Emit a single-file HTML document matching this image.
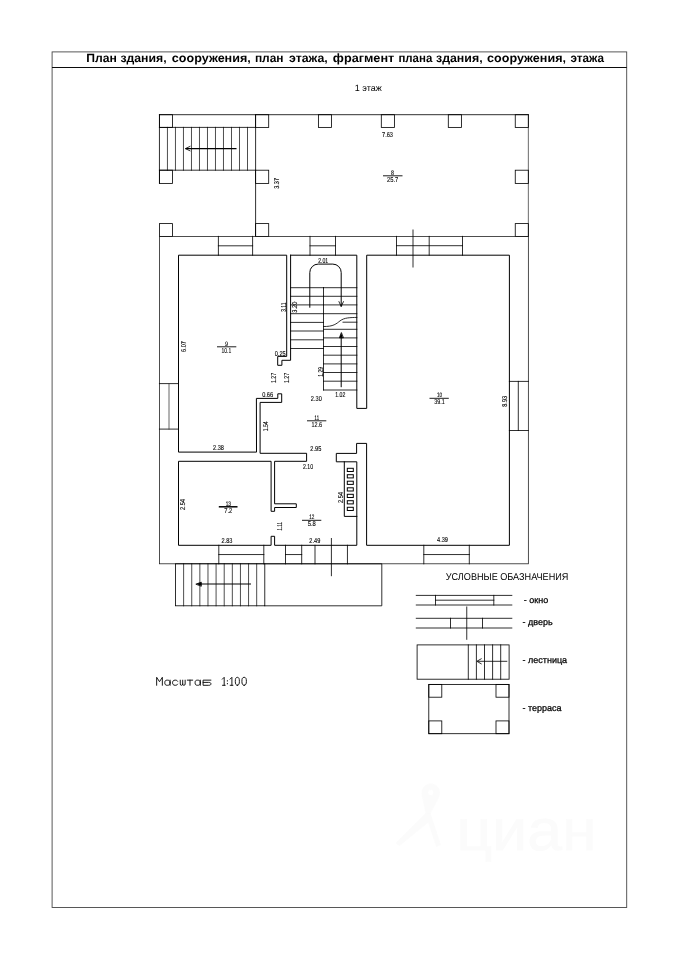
<!DOCTYPE html>
<html><head><meta charset="utf-8"><title>plan</title>
<style>
html,body{margin:0;padding:0;background:#fff;}
body{width:679px;height:960px;overflow:hidden;font-family:"Liberation Sans",sans-serif;}
svg{display:block;will-change:transform;opacity:0.995}
text{text-rendering:geometricPrecision;}
</style></head><body>
<svg width="679" height="960" viewBox="0 0 679 960">
<rect x="0" y="0" width="679" height="960" fill="#ffffff"/>
<g fill="none" stroke="#454545" stroke-width="0.9">
<rect x="52.1" y="51.9" width="574.6" height="855.6"/>
</g>
<g fill="none" stroke="#0a0a0a" stroke-width="1">
<line x1="52" y1="67.5" x2="626.8" y2="67.5"/>
</g>
<g fill="none" stroke="#000" stroke-width="0.82" stroke-linecap="square">
<line x1="159.45" y1="114.7" x2="528.35" y2="114.7"/>
<line x1="255.6" y1="114.7" x2="255.6" y2="236.4"/>
<line x1="528.35" y1="114.7" x2="528.35" y2="236.4" stroke-width="0.7" stroke="#2a2a2a"/>
<rect x="159.45" y="114.7" width="13.1" height="12.7"/>
<rect x="255.6" y="114.7" width="13.1" height="12.7"/>
<rect x="318.4" y="114.7" width="13.1" height="12.7"/>
<rect x="381.3" y="114.7" width="13.1" height="12.7"/>
<rect x="448.3" y="114.7" width="13.1" height="12.7"/>
<rect x="515.25" y="114.7" width="13.1" height="12.7"/>
<rect x="159.45" y="170.2" width="13.1" height="13.2"/>
<rect x="159.45" y="223.6" width="13.1" height="12.8"/>
<rect x="255.6" y="170.2" width="13.1" height="13.2"/>
<rect x="255.6" y="223.6" width="13.1" height="12.8"/>
<rect x="515.25" y="170.2" width="13.1" height="13.2"/>
<rect x="515.25" y="223.6" width="13.1" height="12.8"/>
<line x1="159.45" y1="114.7" x2="159.45" y2="183.4"/>
<line x1="159.45" y1="127.4" x2="255.6" y2="127.4"/>
<line x1="159.45" y1="170.2" x2="255.6" y2="170.2"/>
<line x1="167.45" y1="127.4" x2="167.45" y2="170.2" stroke-width="0.7"/>
<line x1="175.46" y1="127.4" x2="175.46" y2="170.2" stroke-width="0.7"/>
<line x1="183.46" y1="127.4" x2="183.46" y2="170.2" stroke-width="0.7"/>
<line x1="191.47" y1="127.4" x2="191.47" y2="170.2" stroke-width="0.7"/>
<line x1="199.47" y1="127.4" x2="199.47" y2="170.2" stroke-width="0.7"/>
<line x1="207.47" y1="127.4" x2="207.47" y2="170.2" stroke-width="0.7"/>
<line x1="215.48" y1="127.4" x2="215.48" y2="170.2" stroke-width="0.7"/>
<line x1="223.48" y1="127.4" x2="223.48" y2="170.2" stroke-width="0.7"/>
<line x1="231.49" y1="127.4" x2="231.49" y2="170.2" stroke-width="0.7"/>
<line x1="239.49" y1="127.4" x2="239.49" y2="170.2" stroke-width="0.7"/>
<line x1="247.5" y1="127.4" x2="247.5" y2="170.2" stroke-width="0.7"/>
<line x1="236" y1="148.6" x2="186" y2="148.6" stroke-width="1.05"/>
<path d="M190.0,146.4 L185.4,148.6 L190.0,150.8"/>
<rect x="159.45" y="236.4" width="368.9" height="327.4" stroke-width="0.78" stroke="#1c1c1c"/>
<line x1="218.4" y1="236.4" x2="218.4" y2="255.2"/>
<line x1="252.6" y1="236.4" x2="252.6" y2="255.2"/>
<line x1="218.4" y1="245.8" x2="252.6" y2="245.8"/>
<line x1="310" y1="236.4" x2="310" y2="255.2"/>
<line x1="335.5" y1="236.4" x2="335.5" y2="255.2"/>
<line x1="310" y1="245.8" x2="335.5" y2="245.8"/>
<line x1="396.5" y1="236.4" x2="396.5" y2="255.2"/>
<line x1="429.2" y1="236.4" x2="429.2" y2="255.2"/>
<line x1="462.5" y1="236.4" x2="462.5" y2="255.2"/>
<line x1="396.5" y1="245.7" x2="462.5" y2="245.7"/>
<line x1="413" y1="230" x2="413" y2="267"/>
<line x1="159.45" y1="383.6" x2="178.5" y2="383.6"/>
<line x1="159.45" y1="429.1" x2="178.5" y2="429.1"/>
<line x1="169.0" y1="383.6" x2="169.0" y2="429.1" stroke-width="0.75" stroke="#333"/>
<line x1="509.4" y1="381.4" x2="528.35" y2="381.4"/>
<line x1="509.4" y1="430.5" x2="528.35" y2="430.5"/>
<line x1="518.3" y1="381.4" x2="518.3" y2="430.5"/>
<line x1="218.8" y1="545.3" x2="218.8" y2="563.8"/>
<line x1="263.8" y1="545.3" x2="263.8" y2="563.8"/>
<line x1="218.8" y1="554.55" x2="263.8" y2="554.55"/>
<line x1="285.5" y1="545.3" x2="285.5" y2="563.8"/>
<line x1="301.7" y1="545.3" x2="301.7" y2="563.8"/>
<line x1="285.5" y1="554.55" x2="301.7" y2="554.55"/>
<line x1="423.8" y1="545.3" x2="423.8" y2="563.8"/>
<line x1="469.3" y1="545.3" x2="469.3" y2="563.8"/>
<line x1="423.8" y1="554.55" x2="469.3" y2="554.55"/>
<line x1="315" y1="545.3" x2="315" y2="563.8"/>
<line x1="347.45" y1="545.3" x2="347.45" y2="563.8"/>
<line x1="331.4" y1="538.5" x2="331.4" y2="575.7"/>
<path d="M290.6,255.2 L290.6,360.3 L281.9,360.3 L281.9,365.3 L277.7,365.3 L277.7,356.4 L286.7,356.4 L286.7,255.2 L178.5,255.2 L178.5,452.1 L256.5,452.1 L256.4,398.4 L277.8,398.4 L277.8,393.8 L281.7,393.8 L281.7,402.4 L260.1,402.4 L260.1,453.3 L306.6,453.3 L306.6,461.3 L274.6,461.3 L274.6,503.8 L296.3,503.8 L296.3,507.5 L274.6,507.5 L274.6,511.3 L271.1,511.3 L271.1,461.3 L178.5,461.3 L178.5,545.3 L271.1,545.3 L271.1,536.3 L274.6,536.3 L274.6,545.3 L356.8,545.3 L356.8,461.8 L336.3,461.8 L336.3,453.4 L356.6,453.4 L356.6,443.4 L366.6,443.4 L366.6,545.3 L509.4,545.3 L509.4,255.2 L366.7,255.2 L366.7,408.4 L356.8,408.4 L356.8,255.2 L290.6,255.2" stroke-width="1.0"/>
<path d="M344.3,461.8 L344.3,516.4 L356.8,516.4" stroke-width="1.0"/>
<rect x="347.3" y="468.29999999999995" width="6.0" height="3.2" stroke-width="1.0"/>
<rect x="347.3" y="474.7" width="6.0" height="3.2" stroke-width="1.0"/>
<rect x="347.3" y="481.2" width="6.0" height="3.2" stroke-width="1.0"/>
<rect x="347.3" y="487.79999999999995" width="6.0" height="3.2" stroke-width="1.0"/>
<rect x="347.3" y="494.29999999999995" width="6.0" height="3.2" stroke-width="1.0"/>
<rect x="347.3" y="500.7" width="6.0" height="3.2" stroke-width="1.0"/>
<rect x="347.3" y="507.29999999999995" width="6.0" height="3.2" stroke-width="1.0"/>
<line x1="290.6" y1="287.7" x2="323.5" y2="287.7"/>
<line x1="290.6" y1="296.3" x2="323.5" y2="296.3"/>
<line x1="290.6" y1="304.9" x2="323.5" y2="304.9"/>
<line x1="290.6" y1="313.7" x2="323.5" y2="313.7"/>
<line x1="290.6" y1="322.4" x2="323.5" y2="322.4"/>
<line x1="290.6" y1="331.0" x2="323.5" y2="331.0"/>
<line x1="290.6" y1="339.8" x2="323.5" y2="339.8"/>
<line x1="290.6" y1="348.5" x2="323.5" y2="348.5"/>
<line x1="323.5" y1="287.7" x2="356.8" y2="287.7"/>
<line x1="323.5" y1="296.3" x2="356.8" y2="296.3"/>
<line x1="323.5" y1="304.9" x2="356.8" y2="304.9"/>
<line x1="323.5" y1="313.7" x2="356.8" y2="313.7"/>
<line x1="343" y1="322.2" x2="356.8" y2="322.2"/>
<line x1="323.5" y1="329.3" x2="356.8" y2="329.3"/>
<line x1="323.5" y1="337.9" x2="356.8" y2="337.9"/>
<line x1="323.5" y1="346.5" x2="356.8" y2="346.5"/>
<line x1="323.5" y1="355.2" x2="356.8" y2="355.2"/>
<line x1="323.5" y1="363.9" x2="356.8" y2="363.9"/>
<line x1="323.5" y1="372.5" x2="356.8" y2="372.5"/>
<line x1="323.5" y1="381.2" x2="356.8" y2="381.2"/>
<line x1="323.5" y1="390" x2="356.8" y2="390"/>
<line x1="323.5" y1="287.7" x2="323.5" y2="390"/>
<path d="M323.5,326.5 C333.5,326.8 336.5,323.6 340,320.9 C344.5,317.5 350,317.6 356.8,317.4"/>
<path d="M309.8,307.2 L309.8,272.5 A8.4,8.4 0 0 1 318.2,264.1 L332.8,264.1 A8.4,8.4 0 0 1 341.2,272.5 L341.2,306" stroke-width="1.0"/>
<path d="M339.0,301.7 L341.2,306.6 L343.4,301.7"/>
<line x1="341.2" y1="386.7" x2="341.2" y2="336" stroke-width="1.0"/>
<path d="M341.2,333 L339.4,337.8 L343.0,337.8 Z" fill="#000"/>
<rect x="175.5" y="563.8" width="89.3" height="42.0"/>
<line x1="183.62" y1="563.8" x2="183.62" y2="605.8" stroke-width="0.7"/>
<line x1="191.74" y1="563.8" x2="191.74" y2="605.8" stroke-width="0.7"/>
<line x1="199.85" y1="563.8" x2="199.85" y2="605.8" stroke-width="0.7"/>
<line x1="207.97" y1="563.8" x2="207.97" y2="605.8" stroke-width="0.7"/>
<line x1="216.09" y1="563.8" x2="216.09" y2="605.8" stroke-width="0.7"/>
<line x1="224.21" y1="563.8" x2="224.21" y2="605.8" stroke-width="0.7"/>
<line x1="232.33" y1="563.8" x2="232.33" y2="605.8" stroke-width="0.7"/>
<line x1="240.45" y1="563.8" x2="240.45" y2="605.8" stroke-width="0.7"/>
<line x1="248.56" y1="563.8" x2="248.56" y2="605.8" stroke-width="0.7"/>
<line x1="256.68" y1="563.8" x2="256.68" y2="605.8" stroke-width="0.7"/>
<path d="M264.8,563.8 L381.8,563.8 L381.8,605.8 L264.8,605.8"/>
<line x1="250.5" y1="584" x2="199" y2="584" stroke-width="1.1"/>
<path d="M196.3,584 L201.3,582.2 L201.3,585.8 Z" fill="#000"/>
<line x1="416.3" y1="595.4" x2="511.8" y2="595.4"/>
<line x1="416.3" y1="605" x2="511.8" y2="605"/>
<line x1="435.5" y1="595.4" x2="435.5" y2="605"/>
<line x1="493.8" y1="595.4" x2="493.8" y2="605"/>
<line x1="435.5" y1="600.2" x2="493.8" y2="600.2"/>
<line x1="416.3" y1="618.3" x2="511.8" y2="618.3"/>
<line x1="416.3" y1="628" x2="511.8" y2="628"/>
<line x1="450.5" y1="618.3" x2="450.5" y2="628"/>
<line x1="482.5" y1="618.3" x2="482.5" y2="628"/>
<line x1="466.75" y1="607" x2="466.75" y2="639.3"/>
<rect x="417.1" y="644.9" width="92" height="34.3"/>
<line x1="468.3" y1="644.9" x2="468.3" y2="679.2"/>
<line x1="476.4" y1="644.9" x2="476.4" y2="679.2"/>
<line x1="484.5" y1="644.9" x2="484.5" y2="679.2"/>
<line x1="492.6" y1="644.9" x2="492.6" y2="679.2"/>
<line x1="500.7" y1="644.9" x2="500.7" y2="679.2"/>
<line x1="506.8" y1="661.3" x2="478" y2="661.3"/>
<path d="M481.2,658.8 L476.9,661.3 L481.2,663.8"/>
<rect x="428.8" y="684.4" width="80.2" height="49.3"/>
<rect x="428.8" y="684.4" width="13" height="12.8"/>
<rect x="496" y="684.4" width="13" height="12.8"/>
<rect x="428.8" y="720.9" width="13" height="12.8"/>
<rect x="496" y="720.9" width="13" height="12.8"/>
</g>
<g fill="#000" font-family="Liberation Sans, sans-serif">
<text x="86.3" y="62.45" font-size="12" font-weight="bold" textLength="30.6" lengthAdjust="spacingAndGlyphs">План</text>
<text x="120.4" y="62.45" font-size="12" font-weight="bold" textLength="46.2" lengthAdjust="spacingAndGlyphs">здания,</text>
<text x="171.85" y="62.45" font-size="12" font-weight="bold" textLength="78.95" lengthAdjust="spacingAndGlyphs">сооружения,</text>
<text x="254.9" y="62.45" font-size="12" font-weight="bold" textLength="28.7" lengthAdjust="spacingAndGlyphs">план</text>
<text x="289.0" y="62.45" font-size="12" font-weight="bold" textLength="38.8" lengthAdjust="spacingAndGlyphs">этажа,</text>
<text x="332.8" y="62.45" font-size="12" font-weight="bold" textLength="61.5" lengthAdjust="spacingAndGlyphs">фрагмент</text>
<text x="398.4" y="62.45" font-size="12" font-weight="bold" textLength="33.9" lengthAdjust="spacingAndGlyphs">плана</text>
<text x="436.0" y="62.45" font-size="12" font-weight="bold" textLength="46.6" lengthAdjust="spacingAndGlyphs">здания,</text>
<text x="487.1" y="62.45" font-size="12" font-weight="bold" textLength="78.9" lengthAdjust="spacingAndGlyphs">сооружения,</text>
<text x="570.5" y="62.45" font-size="12" font-weight="bold" textLength="33.6" lengthAdjust="spacingAndGlyphs">этажа</text>
<text x="368.3" y="91.1" font-size="9" text-anchor="middle" >1 этаж</text>
<text x="507.1" y="579.8" font-size="9.9" text-anchor="middle" textLength="122.6" lengthAdjust="spacingAndGlyphs" >УСЛОВНЫЕ ОБАЗНАЧЕНИЯ</text>
<text x="523.8" y="602.5" font-size="9" text-anchor="start" stroke="#000" stroke-width="0.25">- окно</text>
<text x="522.6" y="624.7" font-size="9" text-anchor="start" stroke="#000" stroke-width="0.25">- дверь</text>
<text x="522.6" y="663.3" font-size="9" text-anchor="start" stroke="#000" stroke-width="0.25">- лестница</text>
<text x="522.5" y="710.5" font-size="9" text-anchor="start" stroke="#000" stroke-width="0.25">- терраса</text>
</g>
<g fill="none" stroke="#0c0c0c" stroke-width="0.95" stroke-linecap="round" stroke-linejoin="round">
<path transform="translate(156.65 685.3)" d="M0,0 L0,-8.0 L2.85,-3.6 L5.7,-8.0 L5.7,0"/>
<path transform="translate(164.8 685.3)" d="M5.3,-5.15 L5.3,0 M5.3,-2.575 C5.3,-4.699375000000001 4.1075,-5.15 2.65,-5.15 C0.6095000000000002,-5.15 0,-4.416125000000001 0,-2.575 C0,-0.7338749999999998 0.6095000000000002,0 2.65,0 C4.1075,0 5.3,-0.4506249999999996 5.3,-2.575"/>
<path transform="translate(172.55 685.3)" d="M5.1,-4.050000000000001 C4.6,-4.95 3.6999999999999997,-5.15 2.55,-5.15 C0.8,-5.15 0,-4.15 0,-2.575 C0,-1 0.8,0 2.55,0 C3.6999999999999997,0 4.6,-0.2 5.1,-1.1"/>
<path transform="translate(180.25 685.3)" d="M0,-5.15 L0,-1.3 C0,-0.4 0.4,0 1.22,0 C2.05,0 2.45,-0.4 2.45,-1.3 L2.45,-5.15 M2.45,-1.3 C2.45,-0.4 2.85,0 3.67,0 C4.5,0 4.9,-0.4 4.9,-1.3 L4.9,-5.15"/>
<path transform="translate(187.3 685.3)" d="M0,-5.15 L5.4,-5.15 M2.7,-5.15 L2.7,0"/>
<path transform="translate(195.1 685.3)" d="M5.2,-5.15 L5.2,0 M5.2,-2.575 C5.2,-4.699375000000001 4.03,-5.15 2.6,-5.15 C0.5979999999999999,-5.15 0,-4.416125000000001 0,-2.575 C0,-0.7338749999999998 0.5979999999999999,0 2.6,0 C4.03,0 5.2,-0.4506249999999996 5.2,-2.575"/>
<path transform="translate(203.1 685.3)" d="M7.8,-5.15 L0,-5.15 L0,0 L5.6,0 C7.2,0 7.8,-0.5 7.8,-1.45 C7.8,-2.4 7.2,-2.9 5.6,-2.9 L0,-2.9"/>
<path transform="translate(222.3 685.3)" d="M0,-6.1 L1.9,-8.0 L1.9,0 M0.2,0 L2.9,0"/>
<path transform="translate(227.4 685.3)" d="M0,-4.7 L0,-4.2 M0,-1.9 L0,-1.4"/>
<path transform="translate(230.0 685.3)" d="M0,-6.1 L1.9,-8.0 L1.9,0 M0.2,0 L2.9,0"/>
<path transform="translate(235.3 685.3)" d="M2.05,0 C0.6149999999999999,0 0,-1.2 0,-4.0 C0,-6.8 0.6149999999999999,-8.0 2.05,-8.0 C3.4849999999999994,-8.0 4.1,-6.8 4.1,-4.0 C4.1,-1.2 3.4849999999999994,0 2.05,0 Z"/>
<path transform="translate(241.9 685.3)" d="M2.25,0 C0.6749999999999999,0 0,-1.2 0,-4.0 C0,-6.8 0.6749999999999999,-8.0 2.25,-8.0 C3.8249999999999997,-8.0 4.5,-6.8 4.5,-4.0 C4.5,-1.2 3.8249999999999997,0 2.25,0 Z"/>
</g>
<g>
</g>
<g fill="#000" stroke="#000" stroke-width="0.12" font-family="Liberation Sans, sans-serif">
<text x="387.5" y="137.05" font-size="7.1" text-anchor="middle" textLength="10.9" lengthAdjust="spacingAndGlyphs" >7.63</text>
<text x="0" y="2.55" font-size="7.1" text-anchor="middle" textLength="10.9" lengthAdjust="spacingAndGlyphs" transform="translate(276.2 183.4) rotate(-90)">3.37</text>
<text x="323.2" y="262.75" font-size="7.1" text-anchor="middle" textLength="10.1" lengthAdjust="spacingAndGlyphs" >2.01</text>
<text x="0" y="2.55" font-size="7.1" text-anchor="middle" textLength="9.3" lengthAdjust="spacingAndGlyphs" transform="translate(283.8 307.2) rotate(-90)">3.11</text>
<text x="0" y="2.55" font-size="7.1" text-anchor="middle" textLength="10.9" lengthAdjust="spacingAndGlyphs" transform="translate(294.9 307.2) rotate(-90)">3.20</text>
<text x="0" y="2.55" font-size="7.1" text-anchor="middle" textLength="10.9" lengthAdjust="spacingAndGlyphs" transform="translate(183 346.5) rotate(-90)">6.07</text>
<text x="280.2" y="355.75" font-size="7.1" text-anchor="middle" textLength="10.9" lengthAdjust="spacingAndGlyphs" >0.25</text>
<text x="0" y="2.55" font-size="7.1" text-anchor="middle" textLength="10.1" lengthAdjust="spacingAndGlyphs" transform="translate(273.6 378.0) rotate(-90)">1.27</text>
<text x="0" y="2.55" font-size="7.1" text-anchor="middle" textLength="10.1" lengthAdjust="spacingAndGlyphs" transform="translate(286.2 378.0) rotate(-90)">1.27</text>
<text x="0" y="2.55" font-size="7.1" text-anchor="middle" textLength="10.1" lengthAdjust="spacingAndGlyphs" transform="translate(320.4 371.8) rotate(-90)">1.29</text>
<text x="340.3" y="397.25" font-size="7.1" text-anchor="middle" textLength="10.1" lengthAdjust="spacingAndGlyphs" >1.02</text>
<text x="316.3" y="401.05" font-size="7.1" text-anchor="middle" textLength="10.9" lengthAdjust="spacingAndGlyphs" >2.30</text>
<text x="267.6" y="397.15000000000003" font-size="7.1" text-anchor="middle" textLength="10.9" lengthAdjust="spacingAndGlyphs" >0.66</text>
<text x="0" y="2.55" font-size="7.1" text-anchor="middle" textLength="10.1" lengthAdjust="spacingAndGlyphs" transform="translate(265.8 426.3) rotate(-90)">1.54</text>
<text x="218.5" y="450.05" font-size="7.1" text-anchor="middle" textLength="10.9" lengthAdjust="spacingAndGlyphs" >2.38</text>
<text x="315.8" y="451.25" font-size="7.1" text-anchor="middle" textLength="10.9" lengthAdjust="spacingAndGlyphs" >2.95</text>
<text x="308" y="468.75" font-size="7.1" text-anchor="middle" textLength="10.1" lengthAdjust="spacingAndGlyphs" >2.10</text>
<text x="0" y="2.55" font-size="7.1" text-anchor="middle" textLength="10.9" lengthAdjust="spacingAndGlyphs" transform="translate(182.6 504.5) rotate(-90)">2.54</text>
<text x="0" y="2.55" font-size="7.1" text-anchor="middle" textLength="10.9" lengthAdjust="spacingAndGlyphs" transform="translate(340.6 497.6) rotate(-90)">2.54</text>
<text x="0" y="2.55" font-size="7.1" text-anchor="middle" textLength="8.5" lengthAdjust="spacingAndGlyphs" transform="translate(279.3 526.3) rotate(-90)">1.11</text>
<text x="227" y="542.55" font-size="7.1" text-anchor="middle" textLength="10.9" lengthAdjust="spacingAndGlyphs" >2.83</text>
<text x="314.8" y="542.55" font-size="7.1" text-anchor="middle" textLength="10.9" lengthAdjust="spacingAndGlyphs" >2.49</text>
<text x="442.5" y="541.8499999999999" font-size="7.1" text-anchor="middle" textLength="10.9" lengthAdjust="spacingAndGlyphs" >4.39</text>
<text x="0" y="2.55" font-size="7.1" text-anchor="middle" textLength="10.9" lengthAdjust="spacingAndGlyphs" transform="translate(504.6 401.3) rotate(-90)">8.93</text>
</g>
<g fill="#000" stroke="#000" font-family="Liberation Sans, sans-serif">
<line x1="383" y1="175.8" x2="402.5" y2="175.8" stroke-width="0.9"/>
<text x="392.6" y="174.5" font-size="6.4" text-anchor="middle" stroke-width="0.1" textLength="3.0" lengthAdjust="spacingAndGlyphs">8</text>
<text x="392.6" y="181.9" font-size="7.1" text-anchor="middle" stroke-width="0.1" textLength="11.3" lengthAdjust="spacingAndGlyphs">25.7</text>
<line x1="217" y1="346.8" x2="236.3" y2="346.8" stroke-width="0.9"/>
<text x="226.4" y="345.5" font-size="6.4" text-anchor="middle" stroke-width="0.1" textLength="3.0" lengthAdjust="spacingAndGlyphs">9</text>
<text x="226.4" y="352.90000000000003" font-size="7.1" text-anchor="middle" stroke-width="0.1" textLength="9.7" lengthAdjust="spacingAndGlyphs">10.1</text>
<line x1="429.5" y1="398.3" x2="448.8" y2="398.3" stroke-width="0.9"/>
<text x="439.5" y="397.0" font-size="6.4" text-anchor="middle" stroke-width="0.1" textLength="5.2" lengthAdjust="spacingAndGlyphs">10</text>
<text x="439.5" y="404.40000000000003" font-size="7.1" text-anchor="middle" stroke-width="0.1" textLength="10.5" lengthAdjust="spacingAndGlyphs">39.1</text>
<line x1="307" y1="420.8" x2="326.3" y2="420.8" stroke-width="0.9"/>
<text x="316.8" y="419.5" font-size="6.4" text-anchor="middle" stroke-width="0.1" textLength="4.4" lengthAdjust="spacingAndGlyphs">11</text>
<text x="316.8" y="426.90000000000003" font-size="7.1" text-anchor="middle" stroke-width="0.1" textLength="10.5" lengthAdjust="spacingAndGlyphs">12.6</text>
<line x1="218.8" y1="506.8" x2="237.5" y2="506.8" stroke-width="1.5"/>
<text x="228.3" y="505.5" font-size="6.4" text-anchor="middle" stroke-width="0.1" textLength="5.2" lengthAdjust="spacingAndGlyphs">13</text>
<text x="228.3" y="512.9" font-size="7.1" text-anchor="middle" stroke-width="0.1" textLength="8.1" lengthAdjust="spacingAndGlyphs">7.2</text>
<line x1="302" y1="520.3" x2="321.3" y2="520.3" stroke-width="0.9"/>
<text x="311.8" y="519.0" font-size="6.4" text-anchor="middle" stroke-width="0.1" textLength="5.2" lengthAdjust="spacingAndGlyphs">12</text>
<text x="311.8" y="526.4" font-size="7.1" text-anchor="middle" stroke-width="0.1" textLength="8.1" lengthAdjust="spacingAndGlyphs">5.8</text>
</g>
<g fill="#fbfbfb" stroke="#fbfbfb" stroke-width="0.8" font-family="Liberation Sans, sans-serif">
<text x="456.5" y="849.7" font-size="58" textLength="140" lengthAdjust="spacingAndGlyphs">циан</text>
<path fill-rule="evenodd" d="M430.8,784 C436,784 439.6,787.8 439.6,792.6 C439.6,797.5 434,806 429.6,815 L426.4,815 C424.5,806 422,797.5 422,792.6 C422,787.8 425.6,784 430.8,784 Z M430.8,789.6 a3,3 0 1 0 0.01,0 Z"/>
<path d="M426.2,813 L430,813 L440.6,845 L436.4,846.4 L428.4,822 L399.4,845.6 L396,843 Z"/>
</g>
</svg>
</body></html>
